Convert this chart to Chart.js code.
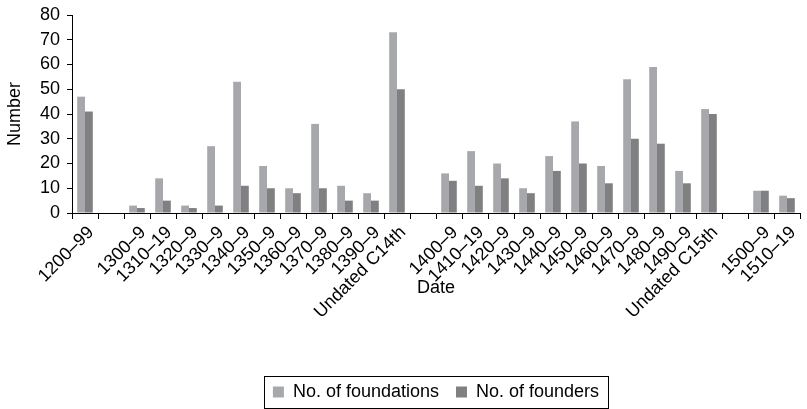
<!DOCTYPE html>
<html>
<head>
<meta charset="utf-8">
<script src="https://cdn.jsdelivr.net/npm/chart.js@4/dist/chart.umd.min.js"></script>
<style>
  html, body { margin: 0; padding: 0; background: #ffffff; }
  #wrap { width: 807px; height: 409px; position: relative; }
</style>
</head>
<body>
<div id="wrap"><canvas id="c" width="807" height="409"></canvas></div>
<script>
// Periods (empty strings leave a gap between centuries)
const periods = [
  '1200–99', '',
  '1300–9', '1310–19', '1320–9', '1330–9', '1340–9', '1350–9', '1360–9', '1370–9', '1380–9', '1390–9', 'Undated C14th', '',
  '1400–9', '1410–19', '1420–9', '1430–9', '1440–9', '1450–9', '1460–9', '1470–9', '1480–9', '1490–9', 'Undated C15th', '',
  '1500–9', '1510–19'
];

const foundations = [
  47, null,
  3, 14, 3, 27, 53, 19, 10, 36, 11, 8, 73, null,
  16, 25, 20, 10, 23, 37, 19, 54, 59, 17, 42, null,
  9, 7
];

const founders = [
  41, null,
  2, 5, 2, 3, 11, 10, 8, 10, 5, 5, 50, null,
  13, 11, 14, 8, 17, 20, 12, 30, 28, 12, 40, null,
  9, 6
];

const yTicks = { min: 0, max: 80, step: 10 };

const FONT = 'Liberation Sans';
const FS = 18;
const LEGEND_PAD = 17;
const LEGEND_H = FS + LEGEND_PAD + 10;
const PLOT_TOP = 15;
const PLOT_BOTTOM = 213;

// Centre the legend under the plot area, nudge it down, and frame it
const legendFrame = {
  id: 'legendFrame',
  afterUpdate(chart) {
    const lg = chart.legend;
    if (!lg) return;
    const shift = (chart.chartArea.left + chart.chartArea.right) / 2 - (lg.left + lg.right) / 2;
    lg.left += shift;
    lg.right += shift;
    lg.top += 2;
    lg.bottom += 2;
  },
  afterDraw(chart) {
    const lg = chart.legend;
    if (!lg || !lg.lineWidths || !lg.lineWidths.length) return;
    const lw = lg.lineWidths[0];
    const start = (lg.left + LEGEND_PAD + lg.right - lw) / 2;
    const left = start - 9;
    const right = start + lw - LEGEND_PAD + 9;
    const mid = lg.top + LEGEND_PAD + FS / 2;
    const ctx = chart.ctx;
    ctx.save();
    ctx.strokeStyle = '#000000';
    ctx.lineWidth = 1;
    ctx.strokeRect(Math.round(left) + 0.5, Math.round(mid - 16) + 0.5, Math.round(right - left), 32);
    ctx.restore();
  }
};

new Chart(document.getElementById('c'), {
  type: 'bar',
  data: {
    labels: periods,
    datasets: [
      {
        label: 'No. of foundations',
        data: foundations,
        backgroundColor: '#a7a8ab',
        borderWidth: 0,
        categoryPercentage: 0.6,
        barPercentage: 1.0
      },
      {
        label: 'No. of founders',
        data: founders,
        backgroundColor: '#808082',
        borderWidth: 0,
        categoryPercentage: 0.6,
        barPercentage: 1.0
      }
    ]
  },
  options: {
    responsive: false,
    animation: false,
    devicePixelRatio: 1,
    layout: { padding: { top: PLOT_TOP, right: 7, bottom: 0, left: 0 } },
    plugins: {
      legend: {
        position: 'bottom',
        labels: {
          boxWidth: 11,
          boxHeight: 11,
          padding: LEGEND_PAD,
          color: '#000000',
          font: { family: FONT, size: FS }
        }
      },
      tooltip: { enabled: false }
    },
    scales: {
      x: {
        afterFit(scale) { scale.height = 409 - LEGEND_H - PLOT_BOTTOM; },
        grid: {
          offset: true,
          drawOnChartArea: false,
          drawTicks: true,
          tickLength: 6,
          color: '#000000'
        },
        border: { display: true, color: '#000000', width: 1 },
        ticks: {
          autoSkip: false,
          maxRotation: 45,
          minRotation: 45,
          padding: 3,
          labelOffset: 6,
          color: '#000000',
          font: { family: FONT, size: FS }
        },
        title: {
          display: true,
          text: 'Date',
          color: '#000000',
          font: { family: FONT, size: FS },
          padding: { top: 0, bottom: 65 }
        }
      },
      y: {
        min: yTicks.min,
        max: yTicks.max,
        afterFit(scale) { scale.width = 72; },
        afterUpdate(scale) {
          // keep the plot box fixed vertically
          scale.paddingTop = 0;
        },
        grid: {
          drawOnChartArea: false,
          drawTicks: true,
          tickLength: 5,
          color: '#000000'
        },
        border: { display: true, color: '#000000', width: 1 },
        ticks: {
          autoSkip: false,
          stepSize: yTicks.step,
          padding: 7,
          color: '#000000',
          font: { family: FONT, size: FS }
        },
        title: {
          display: true,
          text: 'Number',
          color: '#000000',
          font: { family: FONT, size: FS },
          padding: { top: 4, bottom: 0 }
        }
      }
    }
  },
  plugins: [legendFrame]
});
</script>
</body>
</html>
